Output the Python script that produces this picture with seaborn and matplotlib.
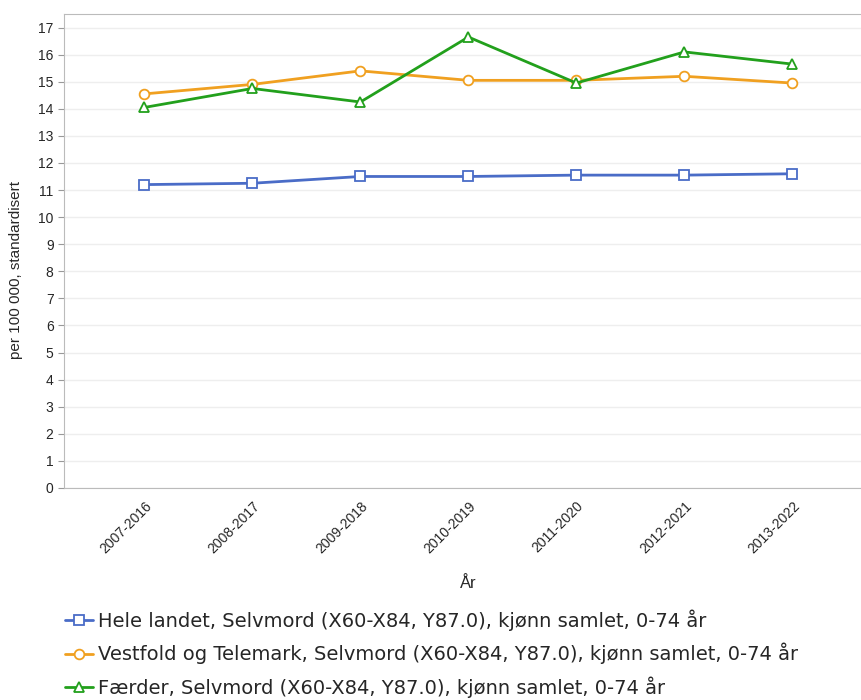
import matplotlib
matplotlib.use("Agg")
import matplotlib.pyplot as plt
import matplotlib.transforms as mtransforms
import pandas as pd
import seaborn as sns

periods = ["2007-2016", "2008-2017", "2009-2018", "2010-2019", "2011-2020", "2012-2021", "2013-2022"]
hele_landet = [11.2, 11.25, 11.5, 11.5, 11.55, 11.55, 11.6]
vestfold_telemark = [14.55, 14.9, 15.4, 15.05, 15.05, 15.2, 14.95]
faerder = [14.05, 14.75, 14.25, 16.65, 14.95, 16.1, 15.65]

series_names = [
    "Hele landet, Selvmord (X60-X84, Y87.0), kjønn samlet, 0-74 år",
    "Vestfold og Telemark, Selvmord (X60-X84, Y87.0), kjønn samlet, 0-74 år",
    "Færder, Selvmord (X60-X84, Y87.0), kjønn samlet, 0-74 år",
]
colors = ["#4a6cc7", "#f0a020", "#22a01c"]
markers = ["s", "o", "^"]

df = pd.DataFrame({"periode": periods * 3,
                   "verdi": hele_landet + vestfold_telemark + faerder,
                   "serie": [s for s in series_names for _ in periods]})
df["x"] = list(range(len(periods))) * 3

sns.set_style("white")
plt.rcParams["font.family"] = ["Liberation Sans", "DejaVu Sans"]

fig = plt.figure(figsize=(8.61, 7.0), dpi=100)
ax = fig.add_axes([0.0743, 0.303, 0.93, 0.677])

for name, col, mk in zip(series_names, colors, markers):
    sub = df[df["serie"] == name]
    sns.lineplot(data=sub, x="x", y="verdi", ax=ax, color=col, marker=mk,
                 markersize=7, markerfacecolor="white", markeredgecolor=col,
                 markeredgewidth=1.3, linewidth=2, label=name)

ax.set_xlim(-0.745, 6.67)
ax.set_ylim(0, 17.5)
ax.set_yticks(range(0, 18))
ax.set_xticks(range(len(periods)))
ax.set_xticklabels(periods, rotation=45, ha="right", rotation_mode="anchor", fontsize=10)
# shift the rotated tick labels a bit to the right, like the original
offset = mtransforms.ScaledTranslation(0.1, 0, fig.dpi_scale_trans)
for lbl in ax.get_xticklabels():
    lbl.set_transform(lbl.get_transform() + offset)
ax.tick_params(axis="y", labelsize=10, length=4, color="#999999", left=True)
ax.tick_params(axis="x", length=0, pad=8)
ax.grid(axis="y", color="#eeeeee", linewidth=1)
for side in ["top", "left", "bottom"]:
    ax.spines[side].set_color("#bbbbbb")
ax.spines["right"].set_visible(False)

ax.set_xlabel("År", fontsize=12)
ax.xaxis.set_label_coords(0.5045, -0.186)
ax.set_ylabel("per 100 000, standardisert", fontsize=11)
ax.yaxis.set_label_coords(-0.051, 0.46)

ax.legend(loc="upper left", bbox_to_anchor=(-0.009, -0.24), frameon=False,
          prop={"family": "DejaVu Sans", "size": 14}, handlelength=1.45,
          handletextpad=0.26, labelspacing=0.62, borderaxespad=0)

fig.savefig("out.png", dpi=100)
